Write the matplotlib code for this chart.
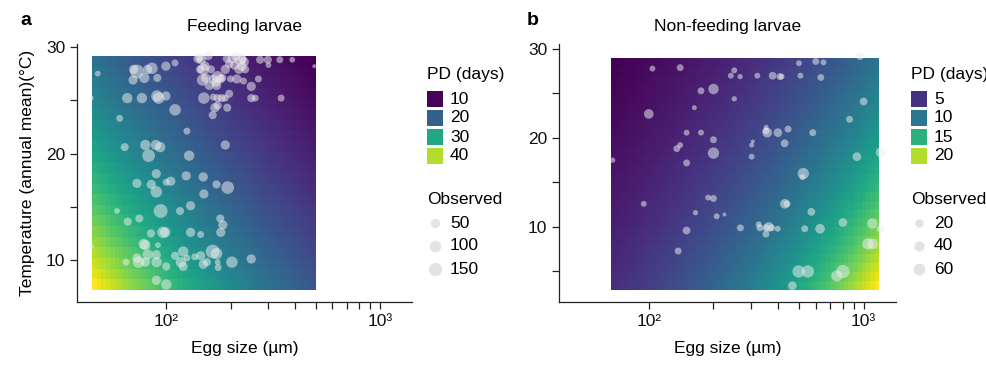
import numpy as np
import matplotlib
matplotlib.use('Agg')
import matplotlib.pyplot as plt
from matplotlib.colors import Normalize
from matplotlib.patches import Rectangle

plt.rcParams['font.family'] = ['Liberation Sans', 'DejaVu Sans']
plt.rcParams['font.size'] = 12.5

# ----- Feeding larvae: observed species -----
feed_egg = [141, 146, 157, 143, 192, 203, 212, 222, 226, 232, 197, 209, 226, 234, 219, 189,
            275, 299, 301, 340, 389, 493, 149, 152, 162, 144, 148, 153, 166, 171, 174, 179,
            159, 172, 183, 200, 214, 230, 250, 270, 150, 166, 174, 182, 189, 197, 250, 261,
            345, 169, 174, 193, 165, 47.8, 44.6, 70.4, 72.9, 81.8, 85.7, 99.6, 110, 69.9,
            78.9, 90.8, 65.7, 76.9, 90.4, 92.1, 99.6, 110, 60.5, 125, 63.9, 79.8, 89.5, 93.7,
            82.7, 128, 189, 89.8, 72.9, 85.1, 100, 105, 89.8, 124, 149, 172, 194, 150,
            58.8, 94.1, 116, 130, 66.0, 74.8, 179, 184, 84.8, 96.5, 98.9, 130, 145, 180,
            44.6, 78.4, 79.8, 91.4, 81.8, 89.8, 64.8, 72.9, 74.2, 79.8, 90.1, 100, 110, 120,
            117, 120, 125, 136, 145, 149, 155, 165, 172, 174, 175, 203, 250, 89.8, 100]
feed_temp = [28.9, 28.8, 29.2, 29.0, 28.9, 28.9, 29.1, 28.8, 28.9, 28.6, 28.4, 28.3, 28.2, 27.9, 27.9, 27.9,
             28.8, 28.8, 28.3, 28.8, 28.8, 28.2, 27.9, 28.2, 27.9, 27.9, 26.9, 27.1, 27.0, 26.7, 27.2, 27.0,
             26.4, 26.4, 27.1, 27.0, 27.0, 26.8, 26.3, 27.0, 25.2, 25.3, 25.2, 25.2, 25.2, 25.6, 25.2, 25.2,
             25.2, 24.3, 24.5, 24.3, 23.6, 27.5, 25.2, 27.9, 27.7, 27.9, 28.0, 28.2, 28.5, 26.9,
             27.1, 27.1, 25.2, 25.2, 25.4, 25.2, 25.4, 24.1, 23.3, 22.1, 20.6, 20.8, 20.8, 20.6,
             19.8, 19.8, 20.8, 18.1, 17.2, 17.1, 17.3, 17.4, 16.4, 17.9, 17.8, 17.1, 16.8, 16.2,
             14.6, 14.6, 14.6, 15.1, 13.6, 13.9, 13.9, 13.3, 12.5, 12.6, 12.6, 12.6, 12.4, 12.6,
             11.25, 11.5, 11.4, 11.4, 10.5, 10.5, 9.8, 10.2, 9.8, 9.8, 9.8, 9.4, 10.4, 10.8,
             9.8, 9.4, 10.2, 10.3, 10.4, 9.6, 9.8, 10.8, 10.6, 9.8, 9.3, 9.8, 10.1, 8.1, 7.7]
feed_obs = [49, 49, 49, 30, 30, 49, 49, 100, 49, 49, 30, 49, 49, 30, 49, 49,
            30, 30, 6, 16, 6, 0, 100, 49, 30, 30, 100, 49, 49, 49, 100, 49,
            49, 49, 30, 16, 49, 16, 49, 16, 100, 16, 30, 30, 16, 30, 30, 16,
            16, 49, 30, 30, 30, 6, 1, 49, 170, 49, 100, 49, 16, 49,
            72, 30, 72, 72, 100, 100, 49, 100, 16, 16, 30, 72, 72, 72,
            133, 72, 49, 49, 49, 49, 16, 49, 100, 49, 49, 30, 133, 49,
            6, 170, 30, 49, 30, 30, 30, 49, 30, 100, 72, 49, 16, 49,
            1, 72, 72, 6, 72, 49, 16, 49, 100, 49, 72, 30, 30, 72,
            72, 49, 16, 16, 49, 49, 30, 170, 100, 6, 16, 100, 49, 49, 72]

# ----- Non-feeding larvae: observed species -----
nonfeed_egg = [104, 140, 250, 241, 266, 320, 377, 408, 415, 508, 632, 500, 599, 650, 961,
               175, 200, 250, 163, 100, 1000, 860, 150, 175, 200, 135, 140, 200, 150, 301,
               301, 305, 351, 356, 352, 399, 445, 429, 580, 931, 1200, 67.9, 524, 519, 94.8,
               189, 200, 430, 440, 165, 207, 225, 571, 150, 267, 325, 329, 351, 362, 351,
               373, 398, 532, 627, 801, 1098, 1200, 137, 1048, 1102, 498, 550, 751, 801, 466]
nonfeed_temp = [27.8, 27.9, 27.6, 27.0, 26.9, 27.0, 27.0, 26.9, 26.9, 27.0, 26.8, 28.4, 28.6, 28.5, 29.2,
                25.3, 25.5, 24.4, 23.4, 22.7, 24.1, 22.1, 20.6, 20.6, 19.8, 18.8, 19.2, 18.3, 17.2, 17.9,
                19.2, 19.6, 20.8, 20.6, 21.2, 20.6, 21.0, 19.4, 20.6, 17.9, 18.4, 17.5, 16.0, 15.6, 12.6,
                13.3, 13.2, 12.6, 12.6, 11.6, 11.2, 11.4, 11.7, 9.6, 9.9, 10.3, 9.9, 9.2, 10.0, 9.9,
                9.9, 9.8, 9.8, 9.8, 10.5, 10.4, 9.8, 7.3, 8.1, 8.1, 5.0, 5.0, 4.5, 5.0, 3.4]
nonfeed_obs = [4, 9, 4, 4, 2, 4, 15, 9, 4, 4, 9, 4, 9, 4, 15,
               9, 43, 2, 1, 33, 15, 9, 4, 4, 9, 9, 4, 55, 9, 4,
               1, 0, 9, 33, 1, 23, 9, 15, 9, 23, 33, 2, 55, 4, 4,
               4, 9, 33, 9, 2, 4, 0, 15, 15, 9, 4, 9, 9, 33, 9,
               9, 4, 9, 33, 23, 43, 15, 9, 55, 43, 71, 71, 55, 86, 23]

# ----- predicted PD surface: PD = a * (egg/ref)^b * exp(c * (T - 15)) -----
feed_coef = dict(a=26.3, ref=100, b=-0.36, c=-0.032)
nonfeed_coef = dict(a=7.26, ref=300, b=0.55, c=-0.033)
feed_egg_range, feed_temp_range = (45, 500), (7.2, 29.15)
nonfeed_egg_range, nonfeed_temp_range = (67, 1184), (2.96, 28.99)

feed_pd_breaks = [10, 20, 30, 40]
feed_obs_breaks = [50, 100, 150]
nonfeed_pd_breaks = [5, 10, 15, 20]
nonfeed_obs_breaks = [20, 40, 60]

W, H = 987, 366
fig = plt.figure(figsize=(W / 100, H / 100), dpi=100)


def dot_size(obs, k):
    # diameter in pixels grows with sqrt(observed), as an area scale
    d_px = 3.9 + k * np.sqrt(np.asarray(obs, dtype=float))
    return (d_px * 0.72) ** 2


def draw_panel(rect, title, coef, egg_range, temp_range, n_cols, egg, temp, obs, k, ylim, yticks):
    ax = fig.add_axes(rect)
    x_edges = np.geomspace(egg_range[0], egg_range[1], n_cols + 1)
    n_rows = int(round(temp_range[1] - temp_range[0]))
    y_edges = np.linspace(temp_range[0], temp_range[1], n_rows + 1)
    xc = np.sqrt(x_edges[:-1] * x_edges[1:])
    yc = (y_edges[:-1] + y_edges[1:]) / 2
    X, Y = np.meshgrid(xc, yc)
    Z = coef['a'] * (X / coef['ref']) ** coef['b'] * np.exp(coef['c'] * (Y - 15))
    norm = Normalize(Z.min(), Z.max())
    ax.pcolormesh(x_edges, y_edges, Z, cmap='viridis', norm=norm, shading='flat',
                  antialiased=False, linewidth=0, zorder=1)
    ax.scatter(egg, temp, s=dot_size(obs, k), color='#eeeeee', alpha=0.52,
               linewidths=0, zorder=3, clip_on=False)
    ax.set_xscale('log')
    ax.set_xlim(38.2, 1415)
    ax.set_ylim(*ylim)
    ax.set_xticks([100, 200, 300, 400, 500, 600, 700, 800, 900, 1000])
    ax.set_xticklabels(['10²', '', '', '', '', '', '', '', '', '10³'])
    ax.xaxis.set_minor_locator(matplotlib.ticker.NullLocator())
    ax.set_yticks(yticks)
    ax.set_yticklabels([str(t) if t % 10 == 0 else '' for t in yticks])
    for s in ['top', 'right']:
        ax.spines[s].set_visible(False)
    for s in ['left', 'bottom']:
        ax.spines[s].set_linewidth(0.9)
        ax.spines[s].set_color('#222222')
    ax.tick_params(length=5, width=0.9, color='#222222', labelcolor='#111111', labelsize=12.5)
    ax.tick_params(axis='x', pad=4)
    ax.set_title(title, fontsize=12.5, pad=9)
    ax.set_xlabel('Egg size (µm)', fontsize=12.5, labelpad=8)
    return ax, norm


ax1, norm1 = draw_panel([77 / W, 64 / H, 335 / W, 258 / H], 'Feeding larvae', feed_coef,
                        feed_egg_range, feed_temp_range, 50, feed_egg, feed_temp, feed_obs,
                        0.76, (6.06, 30.28), [10, 15, 20, 25, 30])
ax1.set_ylabel('Temperature (annual mean)(°C)', fontsize=12.5, labelpad=8)

ax2, norm2 = draw_panel([559 / W, 64 / H, 337 / W, 258 / H], 'Non-feeding larvae', nonfeed_coef,
                        nonfeed_egg_range, nonfeed_temp_range, 60, nonfeed_egg, nonfeed_temp,
                        nonfeed_obs, 1.0, (1.57, 30.56), [5, 10, 15, 20, 25, 30])

# overlay in pixel coordinates for legends and panel letters
ov = fig.add_axes([0, 0, 1, 1], zorder=5)
ov.set_xlim(0, W)
ov.set_ylim(H, 0)
ov.axis('off')
ov.patch.set_alpha(0)

cmap = plt.get_cmap('viridis')


def draw_legend(x0, pd_breaks, norm, obs_breaks, k):
    ov.text(x0, 75, 'PD (days)', ha='left', va='center', fontsize=12.5)
    for i, v in enumerate(pd_breaks):
        yc = 99 + i * 19
        ov.add_patch(Rectangle((x0, yc - 8), 16, 16, facecolor=cmap(norm(v)), edgecolor='none'))
        ov.text(x0 + 23, yc, str(v), ha='left', va='center', fontsize=12.5)
    ov.text(x0, 200, 'Observed', ha='left', va='center', fontsize=12.5)
    for i, v in enumerate(obs_breaks):
        yc = 223 + i * 23
        ov.scatter([x0 + 8], [yc], s=dot_size(v, k), color='#e3e3e3', linewidths=0)
        ov.text(x0 + 23, yc, str(v), ha='left', va='center', fontsize=12.5)


draw_legend(427, feed_pd_breaks, norm1, feed_obs_breaks, 0.76)
draw_legend(911, nonfeed_pd_breaks, norm2, nonfeed_obs_breaks, 1.0)

ov.text(20, 25, 'a', fontsize=14, fontweight='bold', ha='left', va='baseline')
ov.text(527, 25, 'b', fontsize=14, fontweight='bold', ha='left', va='baseline')

fig.savefig('out.png', dpi=100)
